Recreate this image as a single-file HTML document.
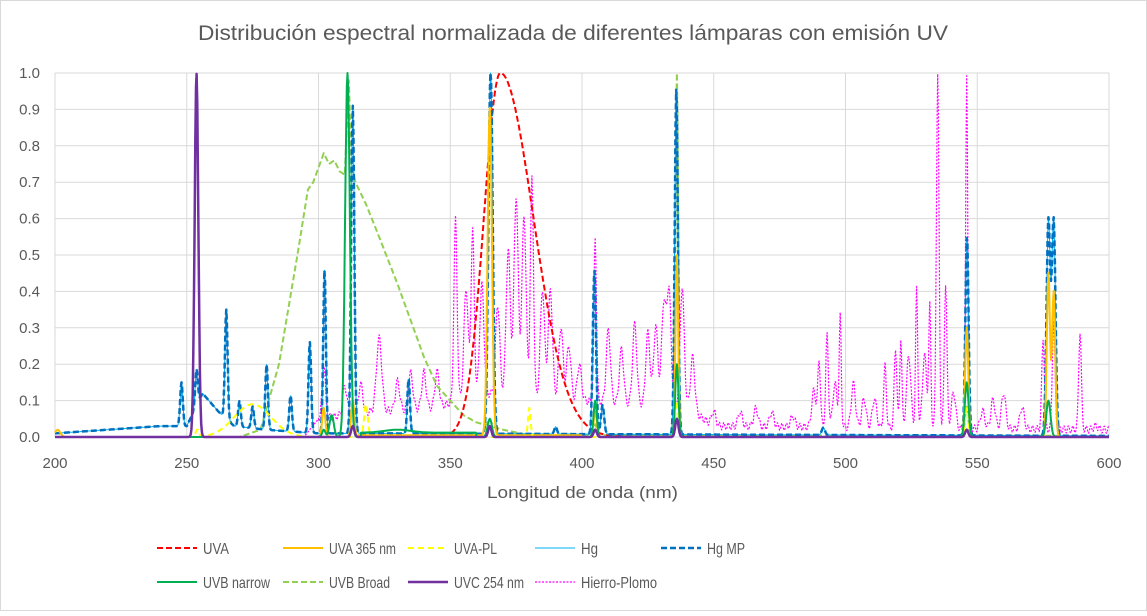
<!DOCTYPE html>
<html><head><meta charset="utf-8"><style>
body{margin:0;background:#fff;}
svg text{font-family:"Liberation Sans",sans-serif;fill:#595959;}
</style></head><body>
<svg id="s" width="1147" height="611" xmlns="http://www.w3.org/2000/svg">
<rect x="0.5" y="0.5" width="1146" height="610" fill="#fff" stroke="#d9d9d9"/>
<text x="198" y="40" font-size="21" textLength="750" lengthAdjust="spacingAndGlyphs">Distribución espectral normalizada de diferentes lámparas con emisión UV</text>
<g id="grid"></g>
<g id="series"></g>
<text x="487" y="498" font-size="17" textLength="191" lengthAdjust="spacingAndGlyphs">Longitud de onda (nm)</text>
<g id="legend" font-size="16"></g>
</svg>
<script>
var NS="http://www.w3.org/2000/svg";
function X(n){return 55+(n-200)*2.635;}
function Y(v){return 437-v*364;}
function el(p,tag,a,txt){var e=document.createElementNS(NS,tag);for(var k in a)e.setAttribute(k,a[k]);if(txt!=null)e.textContent=txt;p.appendChild(e);return e;}
var g=document.getElementById('grid');
for(var i=0;i<=10;i++){var y=Y(i/10);el(g,'line',{x1:55,x2:1109,y1:y,y2:y,stroke:'#d9d9d9','stroke-width':1});
el(g,'text',{x:40,y:y+5,'font-size':15,'text-anchor':'end'},(i/10).toFixed(1));}
for(var n=200;n<=600;n+=50){var x=X(n);el(g,'line',{x1:x,x2:x,y1:73,y2:437,stroke:'#d9d9d9','stroke-width':1});
el(g,'text',{x:x,y:468,'font-size':15,'text-anchor':'middle'},n);}
function gs(n,c,a,s){var d=(n-c)/s;return a*Math.exp(-0.5*d*d);}
function peaks(list,w){return function(n){var v=0;for(var i=0;i<list.length;i++){var p=list[i];v+=gs(n,p[0],p[1],p[2]||w);}return v;};}
function interp(pts){return function(n){if(n<=pts[0][0])return pts[0][1];for(var i=1;i<pts.length;i++){if(n<=pts[i][0]){var a=pts[i-1],b=pts[i];return a[1]+(b[1]-a[1])*(n-a[0])/(b[0]-a[0]);}}return pts[pts.length-1][1];};}
function path(f,a,b,step){var d='';for(var n=a;n<=b;n+=step){var v=Math.min(1,Math.max(0,f(n)));d+=(d?'L':'M')+X(n).toFixed(1)+' '+Y(v).toFixed(1);}return d;}
var S=document.getElementById('series');
function draw(f,col,w,dash,a,b){var at={d:path(f,a||200,b||600,0.25),fill:'none',stroke:col,'stroke-width':w,'stroke-linejoin':'round'};if(dash)at['stroke-dasharray']=dash;el(S,'path',at);}
var hgPk=[[248,0.12,0.5],[253.7,0.1,0.5],[265,0.3,0.5],[270,0.07,0.5],[275,0.06,0.5],[280.3,0.18,0.5],[289.4,0.1,0.5],[296.7,0.25,0.5],[302.3,0.45,0.5],[313,0.9,0.6],[334.2,0.15,0.5],[365.3,1.0,0.8],[404.7,0.45,0.6],[407.8,0.08,0.6],[435.8,0.95,0.6],[491.6,0.02,0.6],[546.1,0.55,0.6],[577,0.59,0.7],[579,0.59,0.7],[390,0.02,0.5]];
var hgBase=interp([[200,0.01],[240,0.03],[250,0.03],[256,0.12],[262,0.07],[268,0.03],[280,0.02],[300,0.01],[320,0.01],[600,0.003]]);
var hg=function(n){return hgBase(n)+peaks(hgPk,0.6)(n);};
var hpPk=[[302,0.15,0.6],[310,0.08],[316,0.08],[323,0.2,1],[330,0.08],[335,0.1],[340,0.1],[345,0.1],[352,0.5,0.6],[356,0.3],[358.5,0.45,0.6],[362,0.3],[368,0.25],[372,0.4,0.8],[375,0.55,0.8],[378,0.5],[381,0.6,0.6],[385,0.3],[388,0.3],[392,0.2],[395,0.15],[399,0.1],[405,0.45,0.5],[410,0.2],[415,0.15],[420,0.22],[425,0.2],[428,0.22],[431,0.28],[433,0.32],[438,0.33],[442,0.15],[450,0.04],[460,0.04],[466,0.05],[472,0.04],[480,0.03],[488,0.1],[490,0.18,0.5],[493,0.25,0.5],[496,0.12],[498,0.3,0.4],[503,0.12],[507,0.08],[511,0.08],[515,0.17,0.5],[519,0.22,0.5],[521,0.25,0.4],[524,0.2],[527,0.38,0.4],[530,0.2],[532,0.33,0.4],[535,0.97,0.5],[538,0.4,0.5],[541,0.1],[546,0.97,0.4],[552,0.05],[556,0.08],[560,0.1],[567,0.06],[575,0.25,0.5],[579,0.3,0.5],[589,0.27,0.5],[595,0.01]];
var hpBase=interp([[200,0],[295,0.005],[300,0.05],[320,0.07],[345,0.08],[360,0.12],[400,0.1],[440,0.08],[450,0.03],[600,0.02]]);
var hp=function(n){return hpBase(n)+peaks(hpPk,0.8)(n)+0.01*Math.sin(n*3.7)*(n>300?1:0);};
draw(hp,'#ff00ff',1.2,'2 1.5',295,600);
var ub=interp([[200,0],[270,0],[278,0.02],[285,0.2],[292,0.5],[296,0.68],[298,0.7],[300,0.74],[302,0.78],[304,0.75],[306,0.76],[308,0.73],[310,0.72],[311.5,0.98],[312.5,0.75],[314,0.7],[318,0.64],[323,0.55],[330,0.42],[335,0.32],[340,0.22],[345,0.14],[350,0.1],[355,0.06],[360,0.04],[370,0.02],[380,0.005],[600,0.003]]);
var ubf=function(n){return ub(n)+gs(n,365,0.02,0.6)+gs(n,405,0.03,0.6)+gs(n,436,1.0,0.5)+gs(n,546,0.08,0.6);};
draw(ubf,'#92d050',2,'6 3');
draw(function(n){var s=n<369?6.2:12.5;return gs(n,369,1,s);},'#ff0000',2,'6 3',330,420);
draw(hg,'#00b0f0',1,null);
draw(hg,'#0070c0',2.5,'6 3');
var u365=peaks([[302,0.08,0.6],[313,0.1,0.6],[365,0.9,0.8],[405,0.07,0.6],[436,0.5,0.5],[546,0.3,0.6],[577,0.45,0.6],[579,0.4,0.6],[201,0.02,1]],0.6);
draw(function(n){return u365(n)+(n>315&&n<400?0.005:0);},'#ffc000',2,null);
var upl=function(n){return gs(n,275,0.09,7)+gs(n,318,0.09,0.7)+gs(n,380,0.08,0.5)+gs(n,436,0.1,0.6)+gs(n,546,0.08,0.6)+gs(n,254,0.02,0.6);};
draw(upl,'#ffff00',2,'6 4',250,600);
var un=function(n){return gs(n,311,1.0,0.9)+gs(n,305,0.06,0.8)+gs(n,302,0.02,0.6)+gs(n,365,0.05,0.8)+gs(n,405,0.1,0.6)+gs(n,436,0.2,0.6)+gs(n,546,0.15,0.7)+gs(n,577,0.1,0.8)+(n>316&&n<360?0.012:0)+gs(n,330,0.008,5);};
draw(un,'#00b050',2,null);
var uc=function(n){return gs(n,253.7,1.0,0.7)+gs(n,313,0.03,0.6)+gs(n,365,0.03,0.6)+gs(n,405,0.02,0.6)+gs(n,436,0.05,0.6)+gs(n,546,0.02,0.6);};
draw(uc,'#7030a0',2.5,null);
var L=document.getElementById('legend');
var items=[['UVA','#ff0000',2,'6 3',26],['UVA 365 nm','#ffc000',2,null,67],['UVA-PL','#ffff00',2,'6 4',43],['Hg','#00b0f0',1,null,17],['Hg MP','#0070c0',2.5,'6 3',38],
['UVB narrow','#00b050',2,null,67],['UVB Broad','#92d050',2,'6 3',61],['UVC 254 nm','#7030a0',2.5,null,70],['Hierro-Plomo','#ff00ff',1.2,'2 1.5',76]];
var cols=[157,283,408,535,661];
items.forEach(function(it,i){var c=cols[i%5],y=i<5?548:582;var a={x1:c,x2:c+40,y1:y,y2:y,stroke:it[1],'stroke-width':it[2]};if(it[3])a['stroke-dasharray']=it[3];el(L,'line',a);
el(L,'text',{x:c+46,y:y+6,textLength:it[4],lengthAdjust:'spacingAndGlyphs'},it[0]);});
</script>
</body></html>
